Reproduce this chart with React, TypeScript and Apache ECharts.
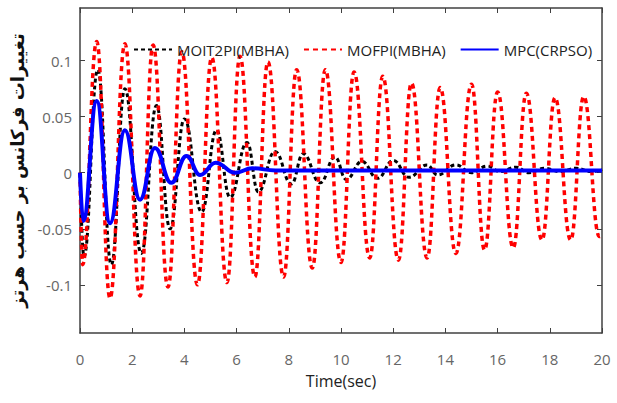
import React, { useEffect, useRef } from "react";
import * as echarts from "echarts";

// MOIT2PI(MBHA) – black dash-dot
const tBlack = [0, 0.15, 0.68, 1.2, 1.72, 2.35, 2.93, 3.45, 4.0, 4.66, 5.23, 5.75, 6.4, 6.83, 7.47, 8.1, 8.55, 9.2, 9.77, 10.2, 10.8, 11.4, 12.0, 12.6, 13.3, 13.7, 14.4, 15.0, 15.6, 16.1, 16.7, 17.2, 17.8, 18.4, 19.0, 19.6, 20];
const vBlack = [0, -0.075, 0.092, -0.082, 0.075, -0.072, 0.06, -0.05, 0.048, -0.035, 0.038, -0.022, 0.027, -0.017, 0.019, -0.01, 0.017, -0.009, 0.014, -0.006, 0.01, -0.005, 0.011, -0.004, 0.007, -0.002, 0.007, 0.0, 0.006, 0.001, 0.005, 0.0, 0.004, 0.001, 0.004, 0.001, 0.003];

// MOFPI(MBHA) – red dashed
const tRed = [0, 0.1, 0.64, 1.15, 1.72, 2.3, 2.8, 3.37, 3.9, 4.5, 5.05, 5.63, 6.13, 6.7, 7.2, 7.8, 8.3, 8.9, 9.4, 10.0, 10.5, 11.1, 11.6, 12.2, 12.7, 13.3, 13.8, 14.4, 15.0, 15.5, 16.0, 16.6, 17.1, 17.7, 18.2, 18.8, 19.3, 19.9, 20];
const vRed = [0, -0.082, 0.117, -0.112, 0.115, -0.11, 0.114, -0.102, 0.108, -0.1, 0.103, -0.098, 0.104, -0.093, 0.099, -0.093, 0.092, -0.085, 0.092, -0.08, 0.09, -0.076, 0.086, -0.078, 0.08, -0.076, 0.076, -0.072, 0.079, -0.069, 0.072, -0.067, 0.071, -0.06, 0.067, -0.06, 0.068, -0.057, -0.056];

// MPC(CRPSO) – blue solid
const tBlue = [0, 0.12, 0.64, 1.15, 1.72, 2.3, 2.87, 3.5, 4.08, 4.6, 5.2, 5.95, 6.6, 7.5, 10, 15, 20];
const vBlue = [0, -0.043, 0.064, -0.045, 0.038, -0.024, 0.022, -0.009, 0.015, -0.002, 0.009, 0.0, 0.004, 0.002, 0.002, 0.002, 0.002];

const yTicks = [-0.1, -0.05, 0, 0.05, 0.1];
const seriesNames = ["MOIT2PI(MBHA)", "MOFPI(MBHA)", "MPC(CRPSO)"];
const yName = "تغییرات فرکانس بر حسب هرتز";
const xName = "Time(sec)";

const pairs = (t: number[], v: number[]) => t.map((x, i) => [x, v[i]]);

export default function App() {
  const ref = useRef<HTMLDivElement>(null);
  useEffect(() => {
    if (!ref.current) return;
    const chart = echarts.init(ref.current, undefined, { renderer: "svg" });
    const font = "'Liberation Sans Narrow', 'Open Sans', sans-serif";
    const frame = { show: true, onZero: false, lineStyle: { color: "#404040", width: 1.5 } };
    const tick = { show: true, inside: true, length: 5, lineStyle: { color: "#404040", width: 1 } };
    chart.setOption({
      animation: false,
      backgroundColor: "#fff",
      grid: { left: 80, right: 15, top: 8, bottom: 70, containLabel: false },
      legend: {
        left: 128,
        top: 37,
        width: 520,
        itemWidth: 38,
        itemHeight: 14,
        itemGap: 14,
        itemStyle: { opacity: 0 },
        textStyle: { fontFamily: font, fontSize: 15, color: "#222" },
        data: seriesNames,
      },
      xAxis: [
        {
          type: "value",
          min: 0,
          max: 20,
          interval: 2,
          axisLine: frame,
          axisTick: tick,
          splitLine: { show: false },
          axisLabel: { margin: 18, fontFamily: font, fontSize: 15, color: "#666" },
          name: xName,
          nameLocation: "middle",
          nameGap: 40,
          nameTextStyle: { fontFamily: font, fontSize: 16, color: "#222" },
        },
        {
          type: "value",
          position: "top",
          min: 0,
          max: 20,
          interval: 2,
          axisLine: frame,
          axisTick: tick,
          splitLine: { show: false },
          axisLabel: { show: false },
        },
      ],
      yAxis: [
        {
          type: "value",
          min: -0.143,
          max: 0.147,
          axisLine: frame,
          axisTick: { ...tick, customValues: yTicks },
          splitLine: { show: false },
          axisLabel: {
            customValues: yTicks,
            margin: 8,
            fontFamily: font,
            fontSize: 15,
            color: "#666",
            formatter: (v: number) => String(Number(v.toFixed(3))),
          },
          name: yName,
          nameLocation: "middle",
          nameGap: 50,
          nameRotate: 90,
          nameTextStyle: { fontFamily: "'DejaVu Sans', sans-serif", fontSize: 18, color: "#111", fontWeight: "bold" },
        },
        {
          type: "value",
          position: "right",
          min: -0.143,
          max: 0.147,
          axisLine: frame,
          axisTick: { ...tick, customValues: yTicks },
          splitLine: { show: false },
          axisLabel: { show: false },
        },
      ],
      series: [
        {
          name: seriesNames[0],
          type: "line",
          data: pairs(tBlack, vBlack),
          smooth: 0.45,
          smoothMonotone: "x",
          symbol: "none",
          lineStyle: { color: "#000", width: 3, type: [4, 3] },
          itemStyle: { color: "#000" },
        },
        {
          name: seriesNames[1],
          type: "line",
          data: pairs(tRed, vRed),
          smooth: 0.45,
          smoothMonotone: "x",
          symbol: "none",
          lineStyle: { color: "#ff0000", width: 3.5, type: [5, 4] },
          itemStyle: { color: "#ff0000" },
        },
        {
          name: seriesNames[2],
          type: "line",
          data: pairs(tBlue, vBlue),
          smooth: 0.45,
          smoothMonotone: "x",
          symbol: "none",
          lineStyle: { color: "#0000ff", width: 4 },
          itemStyle: { color: "#0000ff" },
        },
      ],
    });
    return () => chart.dispose();
  }, []);
  return <div ref={ref} style={{ width: 617, height: 403, position: "absolute", left: 0, top: 0 }} />;
}
